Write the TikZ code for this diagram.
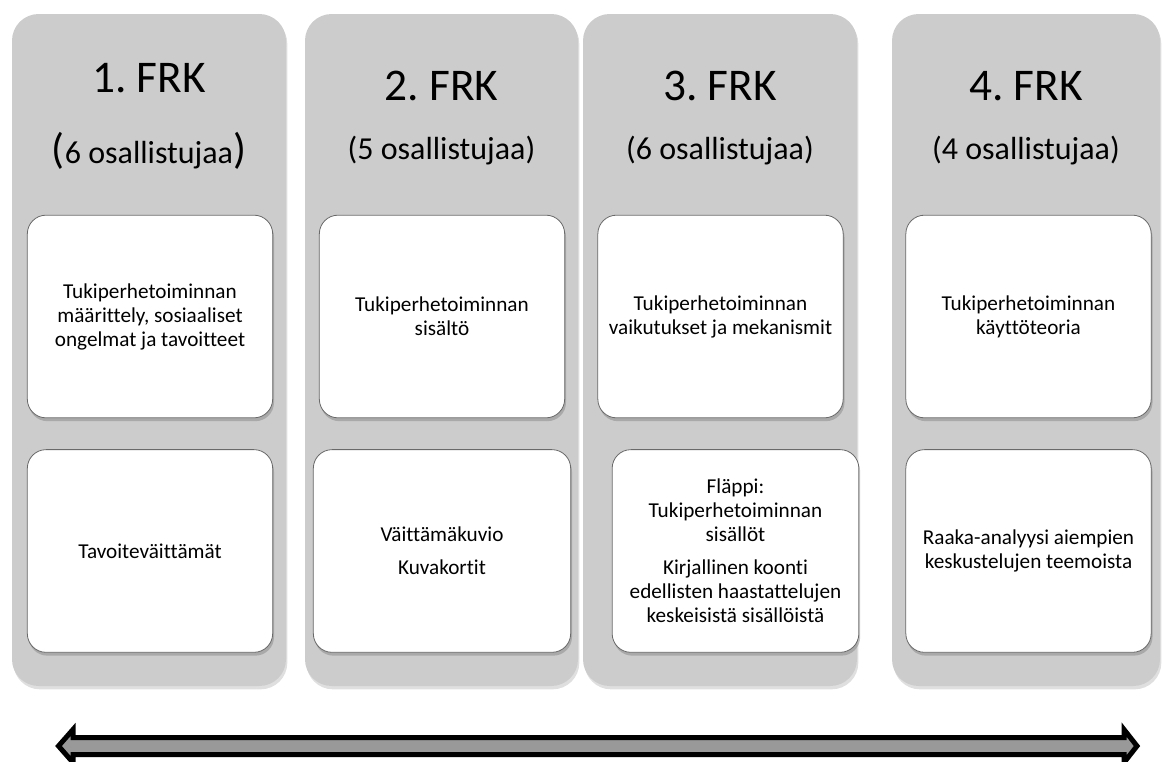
\documentclass[tikz,border=0pt]{standalone}
\usepackage{fontspec}
\setmainfont{Carlito}[Ligatures=NoCommon]
\usepackage{xcolor}
\usetikzlibrary{shapes,arrows,positioning,shadows}

\definecolor{panelgrey}{RGB}{204,204,204}
\definecolor{cardedge}{RGB}{105,105,105}
\definecolor{arrowgrey}{RGB}{153,153,153}

\begin{document}
\frenchspacing
\begin{tikzpicture}[
        x=0.75pt, y=-0.75pt,
        panel/.style={rectangle, fill=panelgrey, rounded corners=20pt, minimum width=205.5pt, minimum height=504pt, inner sep=0pt, drop shadow={shadow xshift=1pt, shadow yshift=-2.5pt, opacity=0.25}},
        card/.style={rectangle, draw=cardedge, line width=0.6pt, fill=white, rounded corners=14pt, text centered, align=center, minimum width=184pt, minimum height=152pt, inner sep=0pt, font=\fontsize{15.9}{18}\selectfont, drop shadow={shadow xshift=1pt, shadow yshift=-2.5pt, opacity=0.45}},
        title/.style={anchor=base, font=\fontsize{34}{40}\selectfont},
        count/.style={anchor=base, font=\fontsize{24}{29}\selectfont},
        timeline/.style={draw=black, fill=arrowgrey, line width=3.75pt, miter limit=4}
    ]
    \useasboundingbox (0,0) rectangle (1162,761);

    % Grey columns
    \node [panel] (p1) at (149,350) {};
    \node [panel, minimum width=204.75pt] (p2) at (441.5,350) {};
    \node [panel] (p3) at (720,350) {};
    \node [panel, minimum width=201pt] (p4) at (1026,350) {};

    % Headings
    \node [title] (h1) at (149,92) {1. FRK};
    \node [count] (n1) at (149,163) {{\fontsize{32}{38}\selectfont(}6 osallistujaa{\fontsize{32}{38}\selectfont)}};
    \node [title] (h2) at (441.5,100) {2. FRK};
    \node [count] (n2) at (441.5,159) {(5 osallistujaa)};
    \node [title] (h3) at (720,100) {3. FRK};
    \node [count] (n3) at (720,159) {(6 osallistujaa)};
    \node [title] (h4) at (1026,100) {4. FRK};
    \node [count] (n4) at (1026,159) {(4 osallistujaa)};

    % Upper cards
    \node [card] (t1) at (150,316.5) {Tukiperhetoiminnan\\määrittely, sosiaaliset\\ongelmat ja tavoitteet};
    \node [card] (t2) at (442,316.5) {Tukiperhetoiminnan\\sisältö};
    \node [card] (t3) at (720.5,316.5) {Tukiperhetoiminnan\\vaikutukset ja mekanismit};
    \node [card] (t4) at (1028.5,316.5) {Tukiperhetoiminnan\\käyttöteoria};

    % Lower cards
    \node [card, below=23.25pt of t1] (b1) {Tavoiteväittämät};
    \node [card, below=23.25pt of t2, minimum width=193pt] (b2) {Väittämäkuvio\\[6.75pt]Kuvakortit};
    \node [card, below=23.25pt of t3, xshift=11.25pt, minimum width=185pt] (b3) {Fläppi:\\Tukiperhetoiminnan\\sisällöt\\[6.75pt]Kirjallinen koonti\\edellisten haastattelujen\\keskeisistä sisällöistä};
    \node [card, below=23.25pt of t4] (b4) {Raaka-analyysi aiempien\\keskustelujen teemoista};

    % Time span arrow (double block arrow)
    \path [timeline] (58.5,746) -- (73,729.5) -- (73,737.5) -- (1124,737.5) -- (1124,729.5)
        -- (1137,746) -- (1124,762.5) -- (1124,754.5) -- (73,754.5) -- (73,762.5) -- cycle;

    \end{tikzpicture}
\end{document}
